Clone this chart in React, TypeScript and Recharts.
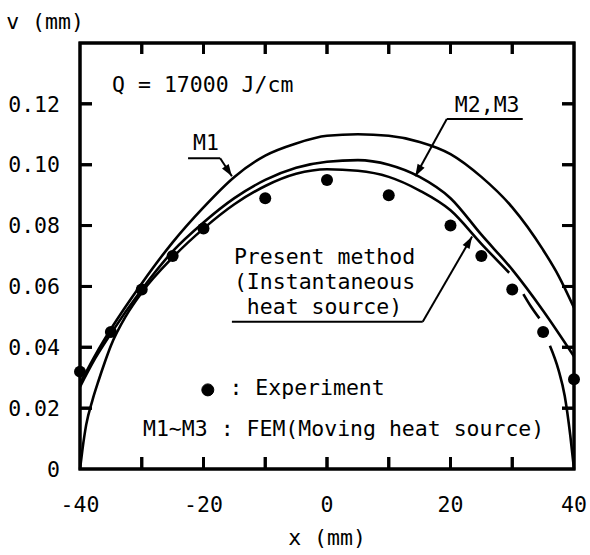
import React from 'react';
import { ComposedChart, Line, XAxis, YAxis, ReferenceLine, ReferenceDot } from 'recharts';

const FONT = '"DejaVu Sans Mono", monospace';
const FS = 21.5;
const INK = '#000';

// axes
const xTicks = [-40, -30, -20, -10, 0, 10, 20, 30, 40];
const xLabelled = [-40, -20, 0, 20, 40];
const yTicks = [0, 0.02, 0.04, 0.06, 0.08, 0.1, 0.12];
const xMin = -40;
const xMax = 40;
const yMax = 0.14;

// experiment points [x, v]
const experiment: [number, number][] = [
  [-40, 0.032], [-35, 0.045], [-30, 0.059], [-25, 0.07], [-20, 0.079], [-10, 0.089],
  [0, 0.095], [10, 0.09], [20, 0.08], [25, 0.07], [30, 0.059], [35, 0.045], [40, 0.0295],
];

// FEM M1
const m1Curve: [number, number][] = [
  [-40, 0.028], [-37.5, 0.0375], [-35, 0.046], [-30, 0.061], [-25, 0.0745], [-20, 0.086],
  [-15, 0.096], [-10, 0.103], [-5, 0.107], [0, 0.1095], [5, 0.11], [10, 0.1095],
  [15, 0.1075], [20, 0.1035], [25, 0.096], [30, 0.086], [35, 0.072], [37.5, 0.0635], [40, 0.053],
];

// FEM M2, M3
const m2m3Curve: [number, number][] = [
  [-40, 0.027], [-37.5, 0.0365], [-35, 0.0445], [-30, 0.059], [-25, 0.0715], [-20, 0.081],
  [-15, 0.089], [-10, 0.095], [-5, 0.099], [0, 0.101], [5, 0.1015], [10, 0.1], [15, 0.096],
  [20, 0.089], [25, 0.077], [30, 0.0655], [35, 0.052], [40, 0.037],
];

// present method, solid part then the broken tail
const presentMain: [number, number][] = [
  [-40, 0], [-39.6, 0.0065], [-39, 0.0145], [-38, 0.0225], [-37, 0.029], [-36, 0.035],
  [-35, 0.0405], [-32.5, 0.0505], [-30, 0.058], [-25, 0.0695], [-20, 0.079], [-15, 0.087],
  [-10, 0.093], [-5, 0.097], [0, 0.0985], [5, 0.098], [10, 0.096], [15, 0.0915], [20, 0.085],
  [25, 0.074], [29.5, 0.0645],
];
const presentDash: [number, number][] = [[31.8, 0.0575], [33, 0.0535], [34.4, 0.0495]];
const presentTail: [number, number][] = [[36.1, 0.0405], [37.5, 0.0325], [38.5, 0.024], [39.4, 0.011], [40, 0]];

const pts = (a: [number, number][]) => a.map(([x, v]) => ({ x, v }));

// chart box
const W = 590;
const H = 555;
const margin = { top: 43, right: 16, bottom: 6, left: 10 };
const yAxisW = 70;
const xAxisH = 80;
const plotL = margin.left + yAxisW;
const plotR = W - margin.right;
const plotT = margin.top;
const plotB = H - margin.bottom - xAxisH;
const sx = (t: number) => plotL + ((t - xMin) / (xMax - xMin)) * (plotR - plotL);
const sy = (t: number) => plotB - (t / yMax) * (plotB - plotT);

// frame and tick positions, taken from the axis domain and tick lists
const frameBox = pts([[xMin, 0], [xMin, yMax], [xMax, yMax], [xMax, 0], [xMin, 0]]);
const innerX = xTicks.slice(1, -1);
const innerY = yTicks.slice(1);
const bottomMarks = innerX.map((t) => ({ x: t, v: 0 }));
const topMarks = innerX.map((t) => ({ x: t, v: yMax }));
const leftMarks = innerY.map((t) => ({ x: xMin, v: t }));
const rightMarks = innerY.map((t) => ({ x: xMax, v: t }));

const textStyle = { fontFamily: FONT, fontSize: FS, fill: INK };

function BottomLabel(props: any) {
  const { x, y, payload } = props;
  const v = payload.value;
  if (!xLabelled.includes(v)) return <g />;
  return <text x={x} y={y} dy="0.71em" textAnchor="middle" {...textStyle}>{String(v)}</text>;
}

function LeftLabel(props: any) {
  const { x, y, payload } = props;
  const v = payload.value;
  return <text x={x} y={y} dy="0.36em" textAnchor="end" {...textStyle}>{v === 0 ? '0' : v.toFixed(2)}</text>;
}

// inward tick mark drawn at a point: dx/dy give direction and length in px
const mark = (dx: number, dy: number) => (p: any) => (
  <path key={`m${p.index}`} d={`M${p.cx},${p.cy} l${dx},${dy}`} stroke={INK} strokeWidth={3} fill="none" />
);

// same marks and frame as a plain svg layer on top, in case the chart layer drops them
function FrameOverlay() {
  const d = [
    ...innerX.map((t) => `M${sx(t)},${plotB} v-12 M${sx(t)},${plotT} v11`),
    ...innerY.map((t) => `M${plotL},${sy(t)} h12 M${plotR},${sy(t)} h-12`),
  ].join(' ');
  return (
    <svg width={W} height={H} style={{ position: 'absolute', left: 0, top: 0, pointerEvents: 'none' }}>
      <rect x={plotL} y={plotT} width={plotR - plotL} height={plotB - plotT} fill="none" stroke={INK} strokeWidth={3} />
      <path d={d} stroke={INK} strokeWidth={3} fill="none" />
    </svg>
  );
}

const textAt = (content: string, anchor: 'start' | 'middle' | 'end' = 'start') => (p: any) => (
  <text x={p.cx} y={p.cy} dy="0.36em" textAnchor={anchor} {...textStyle}>
    {content}
  </text>
);

function arrowLine(p: any) {
  const { x1, y1, x2, y2 } = p;
  const ang = Math.atan2(y2 - y1, x2 - x1);
  const len = 12;
  const w = 4;
  const bx = x2 - len * Math.cos(ang);
  const by = y2 - len * Math.sin(ang);
  const head = `${x2},${y2} ${bx - w * Math.sin(ang)},${by + w * Math.cos(ang)} ${bx + w * Math.sin(ang)},${by - w * Math.cos(ang)}`;
  return (
    <g>
      <line x1={x1} y1={y1} x2={x2} y2={y2} stroke={INK} strokeWidth={2} />
      <polygon points={head} fill={INK} />
    </g>
  );
}

const lineProps = {
  type: 'monotone' as const,
  dataKey: 'v',
  stroke: INK,
  strokeWidth: 2.6,
  dot: false,
  activeDot: false,
  isAnimationActive: false,
};

const markProps = {
  dataKey: 'v',
  stroke: 'none',
  activeDot: false,
  isAnimationActive: false,
  legendType: 'none' as const,
};

export default function App() {
  return (
    <div style={{ position: 'absolute', left: 0, top: 0, width: W, height: H }}>
      <ComposedChart width={W} height={H} margin={margin}>
        <XAxis
          dataKey="x"
          type="number"
          domain={[xMin, xMax]}
          ticks={xTicks}
          interval={0}
          height={xAxisH}
          tickSize={0}
          tickMargin={28}
          tickLine={false}
          axisLine={false}
          tick={<BottomLabel />}
          label={{ value: 'x (mm)', position: 'insideBottom', offset: 4, ...textStyle }}
        />
        <YAxis
          type="number"
          domain={[0, yMax]}
          ticks={yTicks}
          interval={0}
          width={yAxisW}
          tickSize={0}
          tickMargin={20}
          tickLine={false}
          axisLine={false}
          tick={<LeftLabel />}
          label={{ value: 'v (mm)', position: 'top', offset: 14, ...textStyle }}
        />

        {/* plot frame and inward tick marks */}
        <Line
          data={frameBox}
          dataKey="v"
          type="linear"
          stroke={INK}
          strokeWidth={3}
          strokeLinecap="square"
          dot={false}
          activeDot={false}
          isAnimationActive={false}
          legendType="none"
        />
        <Line {...markProps} data={bottomMarks} dot={mark(0, -12)} />
        <Line {...markProps} data={topMarks} dot={mark(0, 11)} />
        <Line {...markProps} data={leftMarks} dot={mark(12, 0)} />
        <Line {...markProps} data={rightMarks} dot={mark(-12, 0)} />

        <Line {...lineProps} data={pts(m1Curve)} name="M1" />
        <Line {...lineProps} data={pts(m2m3Curve)} name="M2,M3" />
        <Line {...lineProps} data={pts(presentMain)} name="Present method" />
        <Line {...lineProps} data={pts(presentDash)} name="Present method (tail)" />
        <Line {...lineProps} data={pts(presentTail)} name="Present method (end)" />
        <Line
          data={pts(experiment)}
          dataKey="v"
          name="Experiment"
          stroke="none"
          dot={{ r: 6, fill: INK, stroke: INK, strokeWidth: 0 }}
          activeDot={false}
          isAnimationActive={false}
        />

        {/* annotations */}
        <ReferenceDot x={-34.8} y={0.1265} r={0} shape={textAt('Q = 17000 J/cm')} />

        <ReferenceDot x={-21.7} y={0.1074} r={0} shape={textAt('M1')} />
        <ReferenceLine segment={[{ x: -22.5, y: 0.1021 }, { x: -17.3, y: 0.1021 }]} stroke={INK} strokeWidth={2} />
        <ReferenceLine segment={[{ x: -17.3, y: 0.1021 }, { x: -15.4, y: 0.0962 }]} shape={arrowLine} />

        <ReferenceDot x={20.7} y={0.1199} r={0} shape={textAt('M2,M3')} />
        <ReferenceLine segment={[{ x: 19.4, y: 0.115 }, { x: 31.7, y: 0.115 }]} stroke={INK} strokeWidth={2} />
        <ReferenceLine segment={[{ x: 19.4, y: 0.115 }, { x: 14.3, y: 0.0962 }]} shape={arrowLine} />

        <ReferenceDot x={-0.4} y={0.0698} r={0} shape={textAt('Present method', 'middle')} />
        <ReferenceDot x={-0.4} y={0.0616} r={0} shape={textAt('(Instantaneous', 'middle')} />
        <ReferenceDot x={-0.4} y={0.0534} r={0} shape={textAt('heat source)', 'middle')} />
        <ReferenceLine segment={[{ x: -15.4, y: 0.0484 }, { x: 15.5, y: 0.0484 }]} stroke={INK} strokeWidth={2} />
        <ReferenceLine segment={[{ x: 15.5, y: 0.0484 }, { x: 23.5, y: 0.0764 }]} shape={arrowLine} />

        <ReferenceDot x={-19.3} y={0.026} r={6} fill={INK} stroke={INK} />
        <ReferenceDot x={-15.8} y={0.0268} r={0} shape={textAt(': Experiment')} />
        <ReferenceDot x={-29.8} y={0.0135} r={0} shape={textAt('M1∼M3 : FEM(Moving heat source)')} />
      </ComposedChart>
      <FrameOverlay />
    </div>
  );
}
